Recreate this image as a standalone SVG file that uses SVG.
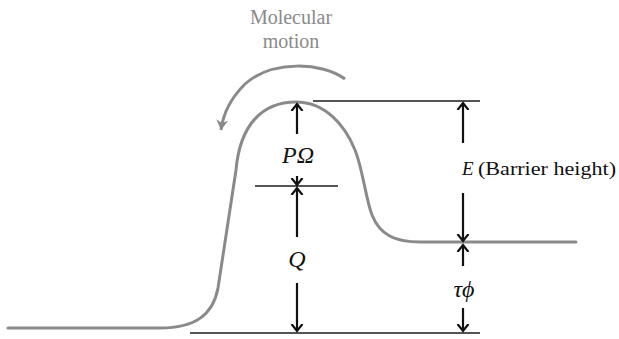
<svg xmlns="http://www.w3.org/2000/svg" width="619" height="339" viewBox="0 0 619 339">
<defs>
<style>
.curve{fill:none;stroke:#8a8a8a;stroke-width:3;stroke-linecap:round}
.ref{fill:none;stroke:#555;stroke-width:2}
.arr{fill:none;stroke:#111;stroke-width:2.2;marker-end:url(#head)}
.math{font-family:"Liberation Serif","DejaVu Serif",serif;font-style:italic;fill:#111}
.lbl{font-family:"Liberation Serif","DejaVu Serif",serif;fill:#111}
.motion{font-family:"Liberation Serif","DejaVu Serif",serif;fill:#8a8a8a;font-size:20px}
</style>
<marker id="head" markerUnits="userSpaceOnUse" markerWidth="14" markerHeight="14" refX="7" refY="7" orient="auto">
<polyline points="0,1.5 7,7 0,12.5" fill="none" stroke="#111" stroke-width="2.2"/>
</marker>
<marker id="ghead" markerUnits="userSpaceOnUse" markerWidth="16" markerHeight="16" refX="10" refY="8" orient="auto">
<path d="M0,2 L10,8 L0,14 L3,8 Z" fill="#8a8a8a"/>
</marker>
</defs>
<g id="energy-curve">
<path class="curve" d="M8,328 L160,328 C195,328 213,315 218,288 L236,170 C240,125 262,102 296,102 C325,102 345,125 355,150 C363,170 366,200 372,215 C380,235 395,242 420,242 L576,242"/>
</g>
<g id="reference-lines">
<line class="ref" x1="313" y1="101" x2="480" y2="101"/>
<line class="ref" x1="255" y1="186" x2="338" y2="186" stroke-width="1.6"/>
<line class="ref" x1="190" y1="333" x2="480" y2="333"/>
</g>
<g id="molecular-motion">
<path d="M345,79 C322,62 272,60 245,84 C232,97 223,114 221,130" fill="none" stroke="#8a8a8a" stroke-width="3" marker-end="url(#ghead)"/>
<text class="motion" x="291" y="24" text-anchor="middle">Molecular</text>
<text class="motion" x="291" y="48" text-anchor="middle">motion</text>
</g>
<g id="connectors">
<line class="arr" x1="297" y1="134" x2="297" y2="104"/>
<line class="arr" x1="297" y1="176" x2="297" y2="185"/>
<line class="arr" x1="297" y1="237" x2="297" y2="188"/>
<line class="arr" x1="297" y1="283" x2="297" y2="331"/>
<line class="arr" x1="463" y1="143" x2="463" y2="103"/>
<line class="arr" x1="463" y1="193" x2="463" y2="241"/>
<line class="arr" x1="463" y1="266" x2="463" y2="245"/>
<line class="arr" x1="463" y1="308" x2="463" y2="331"/>
</g>
<g id="label-POmega">
<text class="math" x="298" y="163" font-size="24" text-anchor="middle">PΩ</text>
</g>
<g id="label-Q">
<text class="math" x="297" y="267" font-size="24" text-anchor="middle">Q</text>
</g>
<g id="label-E">
<text class="math" x="462" y="175" font-size="19">E</text>
<text class="lbl" x="478" y="175" font-size="19" textLength="138" lengthAdjust="spacingAndGlyphs">(Barrier height)</text>
</g>
<g id="label-tauphi">
<text class="math" x="464" y="297" font-size="24" text-anchor="middle">τϕ</text>
</g>
</svg>
